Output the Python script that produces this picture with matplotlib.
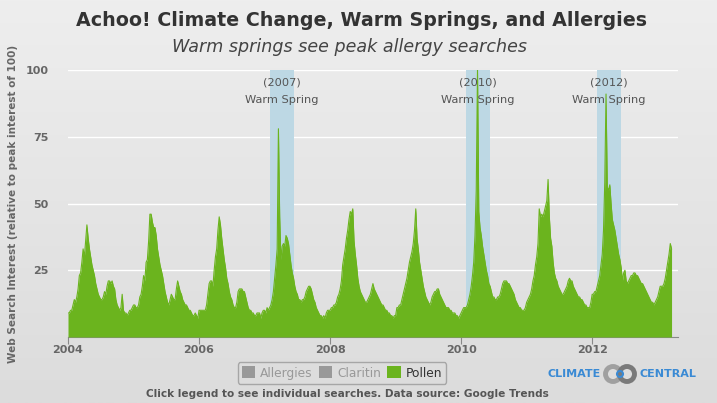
import numpy as np
import matplotlib
matplotlib.use('Agg')
import matplotlib.pyplot as plt
from matplotlib.patches import Patch, Circle

# weekly Google Trends interest for "pollen", one list per year (52 weeks)
pollen_2004 = [9, 9, 10, 10, 12, 14, 13, 15, 18, 23, 24, 28, 33, 30, 36, 42, 37, 33, 30, 27,
               25, 23, 20, 18, 16, 15, 14, 14, 15, 17, 16, 19, 21, 21, 20, 21, 19, 18, 14, 12,
               11, 10, 11, 16, 10, 9, 9, 8, 9, 10, 10, 11]
pollen_2005 = [12, 12, 11, 11, 12, 15, 16, 19, 23, 21, 28, 29, 36, 46, 46, 43, 41, 41, 38, 33,
               30, 27, 25, 23, 20, 17, 15, 13, 12, 14, 16, 15, 14, 14, 18, 21, 19, 17, 16, 14,
               13, 12, 12, 11, 10, 10, 9, 8, 8, 9, 8, 7]
pollen_2006 = [10, 10, 10, 10, 10, 10, 12, 16, 20, 21, 21, 19, 25, 30, 33, 40, 45, 42, 37, 33,
               29, 26, 22, 20, 17, 15, 14, 12, 11, 11, 13, 17, 18, 18, 18, 17, 17, 15, 13, 11,
               10, 10, 9, 9, 8, 8, 9, 9, 9, 7, 9, 10]
pollen_2007 = [10, 9, 11, 10, 11, 12, 14, 17, 22, 27, 33, 78, 45, 29, 34, 35, 34, 38, 37, 35,
               31, 27, 24, 22, 19, 17, 16, 14, 14, 13, 14, 14, 15, 17, 18, 19, 19, 18, 16, 14,
               13, 11, 10, 9, 8, 8, 7, 8, 7, 9, 10, 10]
pollen_2008 = [10, 11, 11, 12, 12, 13, 15, 16, 18, 21, 27, 30, 33, 37, 40, 44, 47, 46, 48, 36,
               31, 27, 22, 19, 17, 16, 15, 14, 13, 13, 14, 15, 16, 18, 20, 18, 17, 16, 15, 14,
               13, 12, 12, 11, 10, 10, 9, 9, 8, 8, 7, 8]
pollen_2009 = [8, 11, 11, 12, 12, 14, 16, 18, 20, 22, 25, 28, 30, 32, 35, 40, 48, 37, 33, 28,
               25, 22, 19, 17, 15, 14, 13, 12, 13, 15, 16, 17, 17, 18, 18, 16, 15, 14, 13, 12,
               11, 11, 11, 10, 10, 9, 9, 9, 8, 8, 7, 8]
pollen_2010 = [9, 10, 11, 11, 11, 12, 14, 16, 19, 23, 28, 38, 55, 100, 47, 41, 38, 34, 31, 28,
               25, 23, 20, 19, 17, 15, 15, 14, 14, 15, 15, 16, 18, 20, 21, 21, 21, 20, 20, 19,
               18, 17, 16, 14, 13, 12, 11, 11, 10, 10, 10, 11]
pollen_2011 = [13, 14, 15, 16, 18, 21, 23, 27, 30, 35, 48, 45, 46, 45, 47, 49, 51, 59, 45, 37,
               34, 28, 24, 22, 21, 19, 18, 17, 16, 16, 17, 18, 19, 21, 22, 21, 21, 19, 18, 17,
               16, 15, 15, 14, 14, 13, 12, 12, 11, 11, 11, 13]
pollen_2012 = [16, 16, 17, 17, 19, 21, 23, 27, 31, 40, 58, 91, 56, 55, 57, 50, 44, 42, 40, 37,
               34, 31, 29, 26, 21, 24, 25, 21, 20, 21, 22, 23, 23, 24, 24, 23, 23, 22, 21, 20,
               20, 19, 18, 17, 16, 15, 14, 13, 13, 12, 13, 14]
pollen_2013 = [15, 17, 19, 19, 19, 20, 22, 25, 28, 31, 35, 33]

years = [2004, 2005, 2006, 2007, 2008, 2009, 2010, 2011, 2012, 2013]
pollen_by_year = [pollen_2004, pollen_2005, pollen_2006, pollen_2007, pollen_2008,
                  pollen_2009, pollen_2010, pollen_2011, pollen_2012, pollen_2013]

# warm springs (decimal year start / end of shaded band)
warm_years = [2007, 2010, 2012]
warm_start = [2007.08, 2010.08, 2012.08]
warm_end = [2007.45, 2010.44, 2012.44]

x_ticks = [2004, 2006, 2008, 2010, 2012]
y_ticks = [25, 50, 75, 100]

GREEN = '#6bb41e'
BAND = '#bdd8e4'
GRAY_TXT = '#666666'

dates, values = [], []
for yr, vals in zip(years, pollen_by_year):
    for i, v in enumerate(vals):
        dates.append(yr + i / 52.0)
        values.append(v)
dates = np.array(dates)
values = np.array(values)

fig = plt.figure(figsize=(7.17, 4.03), dpi=100)

# soft gray gradient background
bg = fig.add_axes([0, 0, 1, 1], zorder=-10)
grad = np.linspace(0, 1, 256).reshape(-1, 1)
bg.imshow(grad, aspect='auto', cmap=matplotlib.colors.LinearSegmentedColormap.from_list(
    'bg', ['#eeeeee', '#dcdcdc']), extent=[0, 1, 0, 1], origin='upper')
bg.axis('off')

ax = fig.add_axes([68 / 717, 66 / 403, 610 / 717, 267 / 403])
ax.patch.set_alpha(0)

for s, e in zip(warm_start, warm_end):
    ax.axvspan(s, e, color=BAND, zorder=1, lw=0)

ax.fill_between(dates, values, 0, color=GREEN, lw=0, zorder=3)
ax.plot(dates, values, color=GREEN, lw=0.8, zorder=3)

ax.set_xlim(2004, 2013.31)
ax.set_ylim(0, 100)
ax.set_yticks(y_ticks)
ax.set_xticks(x_ticks)
ax.set_xticklabels([str(t) for t in x_ticks])
ax.grid(axis='y', color='white', lw=1, zorder=2)
ax.set_axisbelow(True)
for sp in ['top', 'right', 'left']:
    ax.spines[sp].set_visible(False)
ax.spines['bottom'].set_color('#888888')
ax.tick_params(axis='y', length=0, pad=14, labelsize=8, labelcolor=GRAY_TXT)
ax.tick_params(axis='x', length=5, color='#888888', pad=1, labelsize=8, labelcolor=GRAY_TXT)
for lab in ax.get_xticklabels() + ax.get_yticklabels():
    lab.set_fontweight('bold')

ax.set_ylabel('Web Search Interest (relative to peak interest of 100)', fontsize=7.5,
              fontweight='bold', color=GRAY_TXT, labelpad=6)
ax.yaxis.set_label_coords(-50 / 610, 0.5)

for yr, s, e in zip(warm_years, warm_start, warm_end):
    ax.text((s + e) / 2, 95.5, '(%d)' % yr, ha='center', va='center', fontsize=8.2,
            color='#555555', zorder=5)
    ax.text((s + e) / 2, 88.8, 'Warm Spring', ha='center', va='center', fontsize=8.2,
            color='#555555', zorder=5)

fig.text(362 / 717, 1 - 21 / 403, 'Achoo! Climate Change, Warm Springs, and Allergies',
         ha='center', va='center', fontsize=13.7, fontweight='bold', color='#333333')
fig.text(350 / 717, 1 - 47 / 403, 'Warm springs see peak allergy searches',
         ha='center', va='center', fontsize=12.6, style='italic', color='#444444')

handles = [Patch(facecolor='#999999', edgecolor='none'),
           Patch(facecolor='#999999', edgecolor='none'),
           Patch(facecolor=GREEN, edgecolor='none')]
leg = fig.legend(handles, ['Allergies', 'Claritin', 'Pollen'], loc='center',
                 bbox_to_anchor=(342 / 717, 1 - 373 / 403), ncol=3, fontsize=8.8,
                 handlelength=1.1, handleheight=1.1, handletextpad=0.4, columnspacing=0.5,
                 frameon=True, fancybox=True, borderpad=0.35)
leg.get_frame().set_edgecolor('#999999')
leg.get_frame().set_facecolor('none')
for t, c in zip(leg.get_texts(), ['#999999', '#999999', '#333333']):
    t.set_color(c)

fig.text(347 / 717, 1 - 394 / 403,
         'Click legend to see individual searches. Data source: Google Trends',
         ha='center', va='center', fontsize=7.6, fontweight='bold', color='#555555')

# Climate Central logo
fig.text(574 / 717, 1 - 374 / 403, 'CLIMATE', ha='center', va='center', fontsize=8,
         fontweight='bold', color='#3a8ad4')
fig.text(668 / 717, 1 - 374 / 403, 'CENTRAL', ha='center', va='center', fontsize=8,
         fontweight='bold', color='#3a8ad4')
lg = fig.add_axes([602 / 717, 1 - 384 / 403, 36 / 717, 20 / 403])
lg.set_xlim(0, 36)
lg.set_ylim(0, 20)
lg.set_aspect('equal')
lg.axis('off')
lg.add_patch(Circle((11, 10), 7.5, fill=False, lw=3.5, ec='#a0a0a0'))
lg.add_patch(Circle((25, 10), 7.5, fill=False, lw=3.5, ec='#7a7a7a'))
lg.add_patch(Circle((18, 10), 3, fill=False, lw=1.5, ec='#3a8ad4'))

fig.savefig('out.png', dpi=100)
